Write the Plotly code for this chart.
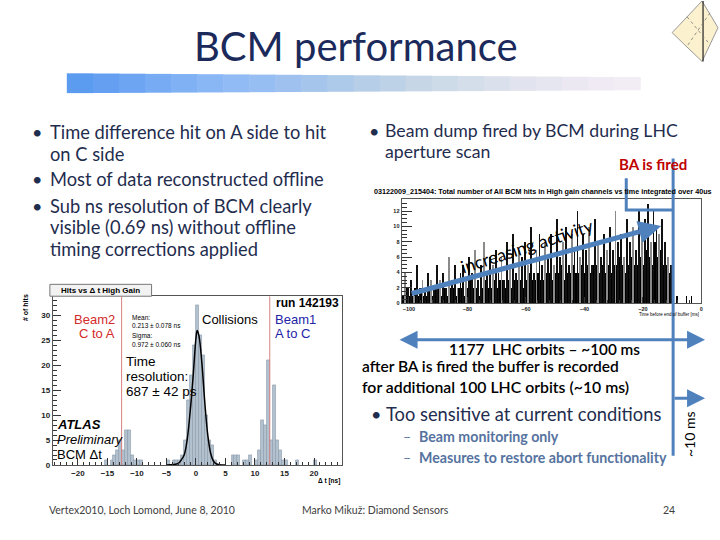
import plotly.graph_objects as go

W, H = 720, 540
def PX(x): return x / W
def PY(y): return 1 - y / H

# ---------------- data: histogram "Hits vs dt High Gain" ----------------
dt_centers = [-15.25, -14.25, -13.75, -13.25, -12.75, -12.25, -11.75, -11.25, -10.75, -10.25, -9.75, -9.25,
              -4.75, -3.75, -3.25, -2.75, -2.25, -1.75, -1.25, -0.75, -0.25, 0.25, 0.75, 1.25, 1.75, 2.25, 2.75, 3.25,
              6.25, 6.75, 7.25, 8.25, 8.75, 9.25,
              10.25, 10.75, 11.25, 11.75, 12.25, 12.75, 13.25, 13.75, 14.25, 14.75, 15.25, 17.25, 20.25]
dt_counts = [1, 1, 2, 3, 5, 3, 7, 7, 2, 1, 1, 1,
             1, 1, 1, 1, 2, 5, 13, 18, 24, 32, 26, 22, 10, 5, 4, 1,
             2, 2, 2, 1, 1, 2,
             1, 3, 9, 8, 21, 5, 16, 5, 3, 1, 1, 1, 1]
fit_x = [-5, -3, -2.5, -2, -1.5, -1, -0.5, 0, 0.2, 0.5, 1, 1.5, 2, 2.5, 3, 3.5, 4, 5]
fit_y = [0, 0.3, 1.0, 2.0, 5.0, 10.5, 17.5, 25.5, 27, 26, 20.5, 12.5, 6, 2.3, 0.7, 0.2, 0.05, 0]
beam_lines = [-12.6, 12.5]
hist_xticks = [-20, -15, -10, -5, 0, 5, 10, 15, 20]
hist_yticks = [0, 5, 10, 15, 20, 25, 30]

# ---------------- data: BCM hits vs time ----------------
t_base = list(range(-102, -10))
hits_base = [1, 2, 1, 1, 2, 1, 2, 1, 1, 2,
             1, 2, 2, 1, 2, 1, 2, 2, 1, 2,
             2, 1, 2, 3, 2, 2, 1, 2, 3, 2,
             2, 3, 2, 3, 3, 2, 3, 2, 3, 3,
             3, 2, 3, 4, 3, 3, 4, 3, 3, 4,
             4, 3, 4, 4, 5, 3, 4, 4, 5, 4,
             4, 5, 4, 5, 4, 5, 5, 4, 5, 4,
             5, 4, 5, 5, 6, 5, 4, 5, 6, 5,
             5, 6, 5, 7, 6, 5, 8, 6, 7, 5,
             5, 4]
t_spike = [x + 0.5 for x in range(-102, -10)]
hits_spike = [4, 2, 3, 1, 5, 2, 3, 2, 4, 3,
              2, 5, 3, 4, 2, 6, 3, 5, 2, 4,
              5, 3, 6, 4, 7, 3, 5, 8, 4, 6,
              5, 7, 4, 6, 3, 8, 5, 9, 4, 7,
              6, 8, 5, 10, 4, 7, 9, 5, 8, 6,
              9, 5, 11, 6, 8, 10, 5, 9, 7, 12,
              6, 9, 7, 10, 5, 11, 8, 6, 9, 7,
              10, 7, 12, 8, 9, 6, 11, 8, 10, 7,
              12, 9, 11, 13, 8, 12, 10, 9, 11, 8,
              6, 5]
t_after = [-8.6, -5.2, -3.5]
hits_after = [1, 1, 1]
bcm_xticks = [-100, -80, -60, -40, -20, 0]
bcm_yticks = [0, 2, 4, 6, 8, 10, 12]

SLIDE = "Lato, 'Open Sans', sans-serif"
ROOTF = "'Liberation Sans', Arial, sans-serif"
NAVY = "#1F2D4E"
BLUE = "#4F81BD"

fig = go.Figure()
fig.add_trace(go.Bar(x=dt_centers, y=dt_counts, width=0.5, xaxis="x", yaxis="y",
                     marker=dict(color="#B3C2CF", line=dict(color="#8898A8", width=0.6)), showlegend=False))
fig.add_trace(go.Scatter(x=fit_x, y=fit_y, mode="lines", line=dict(color="black", width=1.5, shape="spline"),
                         xaxis="x", yaxis="y", showlegend=False))
fig.add_trace(go.Bar(x=t_base, y=hits_base, width=0.95, xaxis="x2", yaxis="y2",
                     marker=dict(color="black", line=dict(width=0)), showlegend=False))
spike_cols = ["#111111" if i % 3 else "#8a8a8a" for i in range(len(hits_spike))]
fig.add_trace(go.Bar(x=t_spike, y=hits_spike, width=0.3, xaxis="x2", yaxis="y2",
                     marker=dict(color=spike_cols, line=dict(width=0)), showlegend=False))
fig.add_trace(go.Bar(x=t_after, y=hits_after, width=0.3, xaxis="x2", yaxis="y2",
                     marker=dict(color="black", line=dict(width=0)), showlegend=False))

ax_common = dict(showgrid=False, zeroline=False, showline=True, linecolor="#555", linewidth=1, mirror=True,
                 ticks="inside", tickcolor="#333")
fig.update_layout(
    width=W, height=H, margin=dict(l=0, r=0, t=0, b=0), paper_bgcolor="white", plot_bgcolor="white",
    barmode="overlay", bargap=0,
    xaxis=dict(domain=[PX(53), PX(343)], range=[-24.25, 24.75], tickvals=hist_xticks, ticklen=7,
               minor=dict(ticks="inside", ticklen=3, dtick=1, tickcolor="#333"),
               tickfont=dict(size=8, family=ROOTF, weight="bold", color="#222"), anchor="y", **ax_common),
    yaxis=dict(domain=[PY(469.3), PY(299)], range=[0, 33.9], tickvals=hist_yticks, ticklen=8,
               minor=dict(ticks="inside", ticklen=4, dtick=1, tickcolor="#333"),
               tickfont=dict(size=8, family=ROOTF, weight="bold", color="#222"), anchor="x", **ax_common),
    xaxis2=dict(domain=[PX(402.7), PX(703.3)], range=[-102.5, 0], tickvals=bcm_xticks, ticklen=6,
                minor=dict(ticks="inside", ticklen=3, dtick=4, tickcolor="#333"),
                tickfont=dict(size=5.5, family=ROOTF, weight="bold", color="#222"), anchor="y2", **ax_common),
    yaxis2=dict(domain=[PY(306), PY(200.7)], range=[0, 13.6], tickvals=bcm_yticks, ticklen=10,
                minor=dict(ticks="inside", ticklen=5, dtick=0.5, tickcolor="#333"),
                tickfont=dict(size=5.5, family=ROOTF, weight="bold", color="#222"), anchor="x2", **ax_common),
)

shapes = []
# gradient bar under title
grad = ["#5B9BF0", "#649FF1", "#6DA5F2", "#77ABF3", "#80B1F4", "#89B7F5", "#90BBF4", "#97BEF2",
        "#9EC1EF", "#A6C5EC", "#AECAEA", "#B6CEE8", "#BED2E7", "#C6D6E7", "#CDDAE8", "#D4DEEA",
        "#DBE1EC", "#E1E4EE", "#E6E6F0", "#EBE8F2", "#EFEAF3", "#F2ECF4"]
x0, x1 = 67, 642
n = len(grad)
for i, c in enumerate(grad):
    a = x0 + (x1 - x0) * i / n
    b = x0 + (x1 - x0) * (i + 1) / n + 0.5
    top = 74 + 4 * i / n
    bot = 94 - 3 * i / n
    shapes.append(dict(type="rect", xref="paper", yref="paper", x0=PX(a), x1=PX(b), y0=PY(bot), y1=PY(top),
                       fillcolor=c, line=dict(width=0), layer="below"))
# diamond logo
shapes.append(dict(type="path", xref="paper", yref="paper",
                   path=f"M {PX(704)} {PY(1)} L {PX(720)} {PY(28)} L {PX(704)} {PY(62)} L {PX(674)} {PY(33)} Z",
                   fillcolor="#FBF1CF", line=dict(color="#999", width=1)))
shapes.append(dict(type="line", xref="paper", yref="paper", x0=PX(705), x1=PX(705), y0=PY(1), y1=PY(62),
                   line=dict(color="#222", width=1.2)))
shapes.append(dict(type="line", xref="paper", yref="paper", x0=PX(689), x1=PX(712), y0=PY(17), y1=PY(45),
                   line=dict(color="#777", width=0.8, dash="dot")))
shapes.append(dict(type="line", xref="paper", yref="paper", x0=PX(712), x1=PX(688), y0=PY(13), y1=PY(48),
                   line=dict(color="#777", width=0.8, dash="dot")))
# histogram title tab
shapes.append(dict(type="rect", xref="paper", yref="paper", x0=PX(50), x1=PX(152), y0=PY(299), y1=PY(287),
                   fillcolor="#F2F2F2", line=dict(color="#777", width=1)))
# beam marker lines
for bl in beam_lines:
    shapes.append(dict(type="line", xref="x", yref="y", x0=bl, x1=bl, y0=0, y1=33.9,
                       line=dict(color="#D88080", width=1)))
# blue BA lines
shapes.append(dict(type="path", xref="paper", yref="paper",
                   path=f"M {PX(628)} {PY(180)} L {PX(628)} {PY(212)} L {PX(675)} {PY(212)}",
                   line=dict(color=BLUE, width=3)))
shapes.append(dict(type="line", xref="paper", yref="paper", x0=PX(675), x1=PX(675), y0=PY(160), y1=PY(460),
                   line=dict(color=BLUE, width=3)))
fig.update_layout(shapes=shapes)

ann = []
def txt(x, y, s, size, color="black", anchor="left", weight="normal", style="normal", family=SLIDE, angle=0):
    ann.append(dict(x=PX(x), y=PY(y), xref="paper", yref="paper", text=s, showarrow=False,
                    xanchor=anchor, yanchor="middle", textangle=angle,
                    font=dict(size=size, color=color, family=family, weight=weight, style=style)))

txt(357, 46, "BCM performance", 40, "#1B2A5A", anchor="center")
# left bullets
for yb in (133, 181, 208):
    txt(30, yb, "•", 18, NAVY)
for s, yy in [("Time difference hit on A side to hit", 133), ("on C side", 155),
              ("Most of data reconstructed offline", 181), ("Sub ns resolution of BCM clearly", 208),
              ("visible (0.69 ns) without offline", 229), ("timing corrections applied", 251)]:
    txt(48, yy, s, 18.3, NAVY)
# right bullets
txt(368, 132, "•", 18, NAVY)
txt(384, 132, "Beam dump fired by BCM during LHC", 17.7, NAVY)
txt(384, 153, "aperture scan", 17.7, NAVY)
txt(619, 166, "BA is fired", 15, "#C00000", weight="bold")
txt(448, 352, "1177  LHC orbits – ~100 ms", 15.3, weight=600)
txt(361, 369, "after BA is fired the buffer is recorded", 15.5, weight=600)
txt(361, 390, "for additional 100 LHC orbits (~10 ms)", 15.8, weight=600)
txt(370, 418, "•", 18, NAVY)
txt(385, 418, "Too sensitive at current conditions", 18.3, NAVY)
txt(402, 441, "–", 14, "#5673A0")
txt(418, 441, "Beam monitoring only", 14.2, "#5673A0", weight="bold")
txt(402, 462, "–", 14, "#5673A0")
txt(418, 462, "Measures to restore abort functionality", 14.2, "#5673A0", weight="bold")
txt(692, 438, "~10 ms", 14, angle=-90, anchor="center")
txt(528, 249, "increasing activity", 17.5, angle=-18, anchor="center")
# footer
txt(47, 515, "Vertex2010, Loch Lomond, June 8, 2010", 10.5, "#404040")
txt(301, 515, "Marko Mikuž: Diamond Sensors", 10.5, "#404040")
txt(663, 515, "24", 10.5, "#404040")
# histogram labels
txt(101, 293, "Hits vs Δ t High Gain", 8, weight="bold", family=ROOTF, anchor="center")
txt(25, 310, "# of hits", 7, weight="bold", family=ROOTF, angle=-90, anchor="center")
txt(342, 306, "run 142193", 12, weight="bold", family=ROOTF, anchor="right")
txt(117, 322, "Beam2", 13, "#D42A2A", family=ROOTF, anchor="right")
txt(117, 337, "C to A", 13, "#D42A2A", family=ROOTF, anchor="right")
txt(130, 320, "Mean:", 6.5, family=ROOTF)
txt(130, 329, "0.213 ± 0.078 ns", 6.5, family=ROOTF)
txt(130, 339, "Sigma:", 6.5, family=ROOTF)
txt(130, 348, "0.972 ± 0.060 ns", 6.5, family=ROOTF)
txt(124, 365, "Time", 13.5, family=ROOTF)
txt(124, 380, "resolution:", 13.5, family=ROOTF)
txt(124, 395, "687 ± 42 ps", 13.5, family=ROOTF)
txt(201, 322, "Collisions", 13, family=ROOTF)
txt(274, 322, "Beam1", 13, "#2323A8", family=ROOTF)
txt(274, 337, "A to C", 13, "#2323A8", family=ROOTF)
txt(55, 428, "ATLAS", 13, weight="bold", style="italic", family=ROOTF)
txt(55, 444, "Preliminary", 13, style="italic", family=ROOTF)
txt(55, 459, "BCM Δt", 13, family=ROOTF)
txt(343, 485, "Δ t [ns]", 6.5, weight="bold", family=ROOTF, anchor="right")
# bcm plot labels
txt(545, 193, "03122009_215404: Total number of All BCM hits in High gain channels vs time integrated over 40us",
    7.2, weight="bold", family=ROOTF, anchor="center")
txt(703, 317, "Time before end of buffer [ms]", 4.5, family=ROOTF, anchor="right")

# arrows
ann.append(dict(x=PX(663), y=PY(228), xref="paper", yref="paper", ax=-251, ay=68, showarrow=True,
                arrowhead=2, arrowsize=0.9, arrowwidth=5, arrowcolor=BLUE, text=""))
ann.append(dict(x=PX(707), y=PY(343), xref="paper", yref="paper", ax=-307, ay=0, showarrow=True,
                arrowhead=2, startarrowhead=2, arrowside="end+start", arrowsize=1.2, startarrowsize=1.2,
                arrowwidth=3, arrowcolor=BLUE, text=""))
ann.append(dict(x=PX(707), y=PY(402), xref="paper", yref="paper", ax=-32, ay=0, showarrow=True,
                arrowhead=2, arrowsize=1.2, arrowwidth=3, arrowcolor=BLUE, text=""))
fig.update_layout(annotations=ann)

fig.write_html("out.html", config={"displayModeBar": False},
               post_script="document.body.style.margin='0px';document.body.style.overflow='hidden';")
